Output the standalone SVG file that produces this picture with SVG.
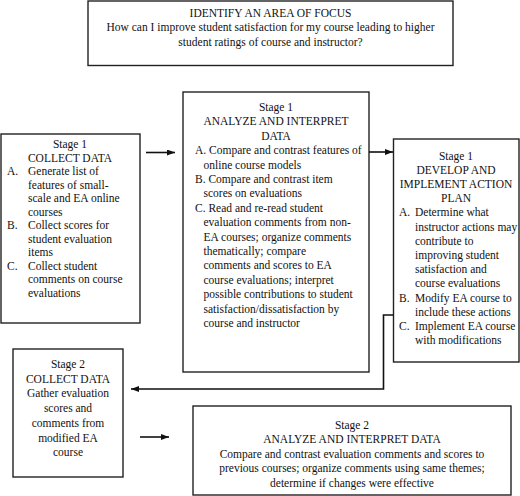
<svg xmlns="http://www.w3.org/2000/svg" width="520" height="496" viewBox="0 0 520 496">
<defs>
<marker id="ah" markerWidth="8" markerHeight="6" refX="8" refY="3" orient="auto" markerUnits="userSpaceOnUse">
<path d="M0,0 L8,3 L0,6 Z" fill="#111"/>
</marker>
<style>
.box{fill:#fff;stroke:#222;stroke-width:1.4}
text{font-family:"Liberation Serif","Times New Roman",serif;font-size:11.5px;fill:#111}
.c{text-anchor:middle}
.ln{fill:none;stroke:#111;stroke-width:1.6}
</style>
</defs>
<rect width="520" height="496" fill="#fff"/>
<g id="focus">
<rect class="box" x="88" y="1" width="365" height="64.5"/>
<text class="c" x="270.5" y="16.7">IDENTIFY AN AREA OF FOCUS</text>
<text class="c" x="270.5" y="31.2">How can I improve student satisfaction for my course leading to higher</text>
<text class="c" x="270.5" y="45.7">student ratings of course and instructor?</text>
</g>
<g id="collect1">
<rect class="box" x="1" y="134" width="139" height="189"/>
<text class="c" x="70" y="148">Stage 1</text>
<text class="c" x="70" y="161.5">COLLECT DATA</text>
<text x="7" y="175">A.</text><text x="28" y="175">Generate list of</text>
<text x="28" y="188.5">features of small-</text>
<text x="28" y="202">scale and EA online</text>
<text x="28" y="215.5">courses</text>
<text x="7" y="229">B.</text><text x="28" y="229">Collect scores for</text>
<text x="28" y="242.5">student evaluation</text>
<text x="28" y="256">items</text>
<text x="7" y="269.5">C.</text><text x="28" y="269.5">Collect student</text>
<text x="28" y="283">comments on course</text>
<text x="28" y="296.5">evaluations</text>
</g>
<g id="analyze1">
<rect class="box" x="183" y="92" width="186" height="280"/>
<text class="c" x="276" y="111">Stage 1</text>
<text class="c" x="276" y="125.4">ANALYZE AND INTERPRET</text>
<text class="c" x="276" y="139.8">DATA</text>
<text x="195" y="154.2">A. Compare and contrast features of</text>
<text x="203.5" y="168.6">online course models</text>
<text x="195" y="183">B. Compare and contrast item</text>
<text x="203.5" y="197.4">scores on evaluations</text>
<text x="195" y="211.8">C. Read and re-read student</text>
<text x="203.5" y="226.2">evaluation comments from non-</text>
<text x="203.5" y="240.6">EA courses; organize comments</text>
<text x="203.5" y="255">thematically; compare</text>
<text x="203.5" y="269.4">comments and scores to EA</text>
<text x="203.5" y="283.8">course evaluations; interpret</text>
<text x="203.5" y="298.2">possible contributions to student</text>
<text x="203.5" y="312.6">satisfaction/dissatisfaction by</text>
<text x="203.5" y="327">course and instructor</text>
</g>
<g id="develop1">
<rect class="box" x="393.5" y="139" width="125.5" height="223"/>
<text class="c" x="456" y="159.5">Stage 1</text>
<text class="c" x="456" y="173.7">DEVELOP AND</text>
<text class="c" x="456" y="187.9">IMPLEMENT ACTION</text>
<text class="c" x="456" y="202.1">PLAN</text>
<text x="399" y="216.3">A.</text><text x="415" y="216.3">Determine what</text>
<text x="415" y="230.5">instructor actions may</text>
<text x="415" y="244.7">contribute to</text>
<text x="415" y="258.9">improving student</text>
<text x="415" y="273.1">satisfaction and</text>
<text x="415" y="287.3">course evaluations</text>
<text x="399" y="301.5">B.</text><text x="415" y="301.5">Modify EA course to</text>
<text x="415" y="315.7">include these actions</text>
<text x="399" y="329.9">C.</text><text x="415" y="329.9">Implement EA course</text>
<text x="415" y="344.1">with modifications</text>
</g>
<g id="collect2">
<rect class="box" x="13" y="349" width="110" height="128"/>
<text class="c" x="68" y="368">Stage 2</text>
<text class="c" x="68" y="382.7">COLLECT DATA</text>
<text class="c" x="68" y="397.4">Gather evaluation</text>
<text class="c" x="68" y="412.1">scores and</text>
<text class="c" x="68" y="426.8">comments from</text>
<text class="c" x="68" y="441.5">modified EA</text>
<text class="c" x="68" y="456.2">course</text>
</g>
<g id="analyze2">
<rect class="box" x="193" y="406" width="318" height="89"/>
<text class="c" x="352" y="429">Stage 2</text>
<text class="c" x="352" y="443.4">ANALYZE AND INTERPRET DATA</text>
<text class="c" x="352" y="457.8">Compare and contrast evaluation comments and scores to</text>
<text class="c" x="352" y="472.2">previous courses; organize comments using same themes;</text>
<text class="c" x="352" y="486.6">determine if changes were effective</text>
</g>
<g id="connectors">
<line class="ln" x1="146" y1="152.5" x2="175" y2="152.5" marker-end="url(#ah)"/>
<line class="ln" x1="369" y1="152" x2="393" y2="152" marker-end="url(#ah)"/>
<polyline class="ln" points="393.5,315 383.5,315 383.5,389 131,389" marker-end="url(#ah)"/>
<line class="ln" x1="140" y1="437" x2="169" y2="437" marker-end="url(#ah)"/>
</g>
</svg>
